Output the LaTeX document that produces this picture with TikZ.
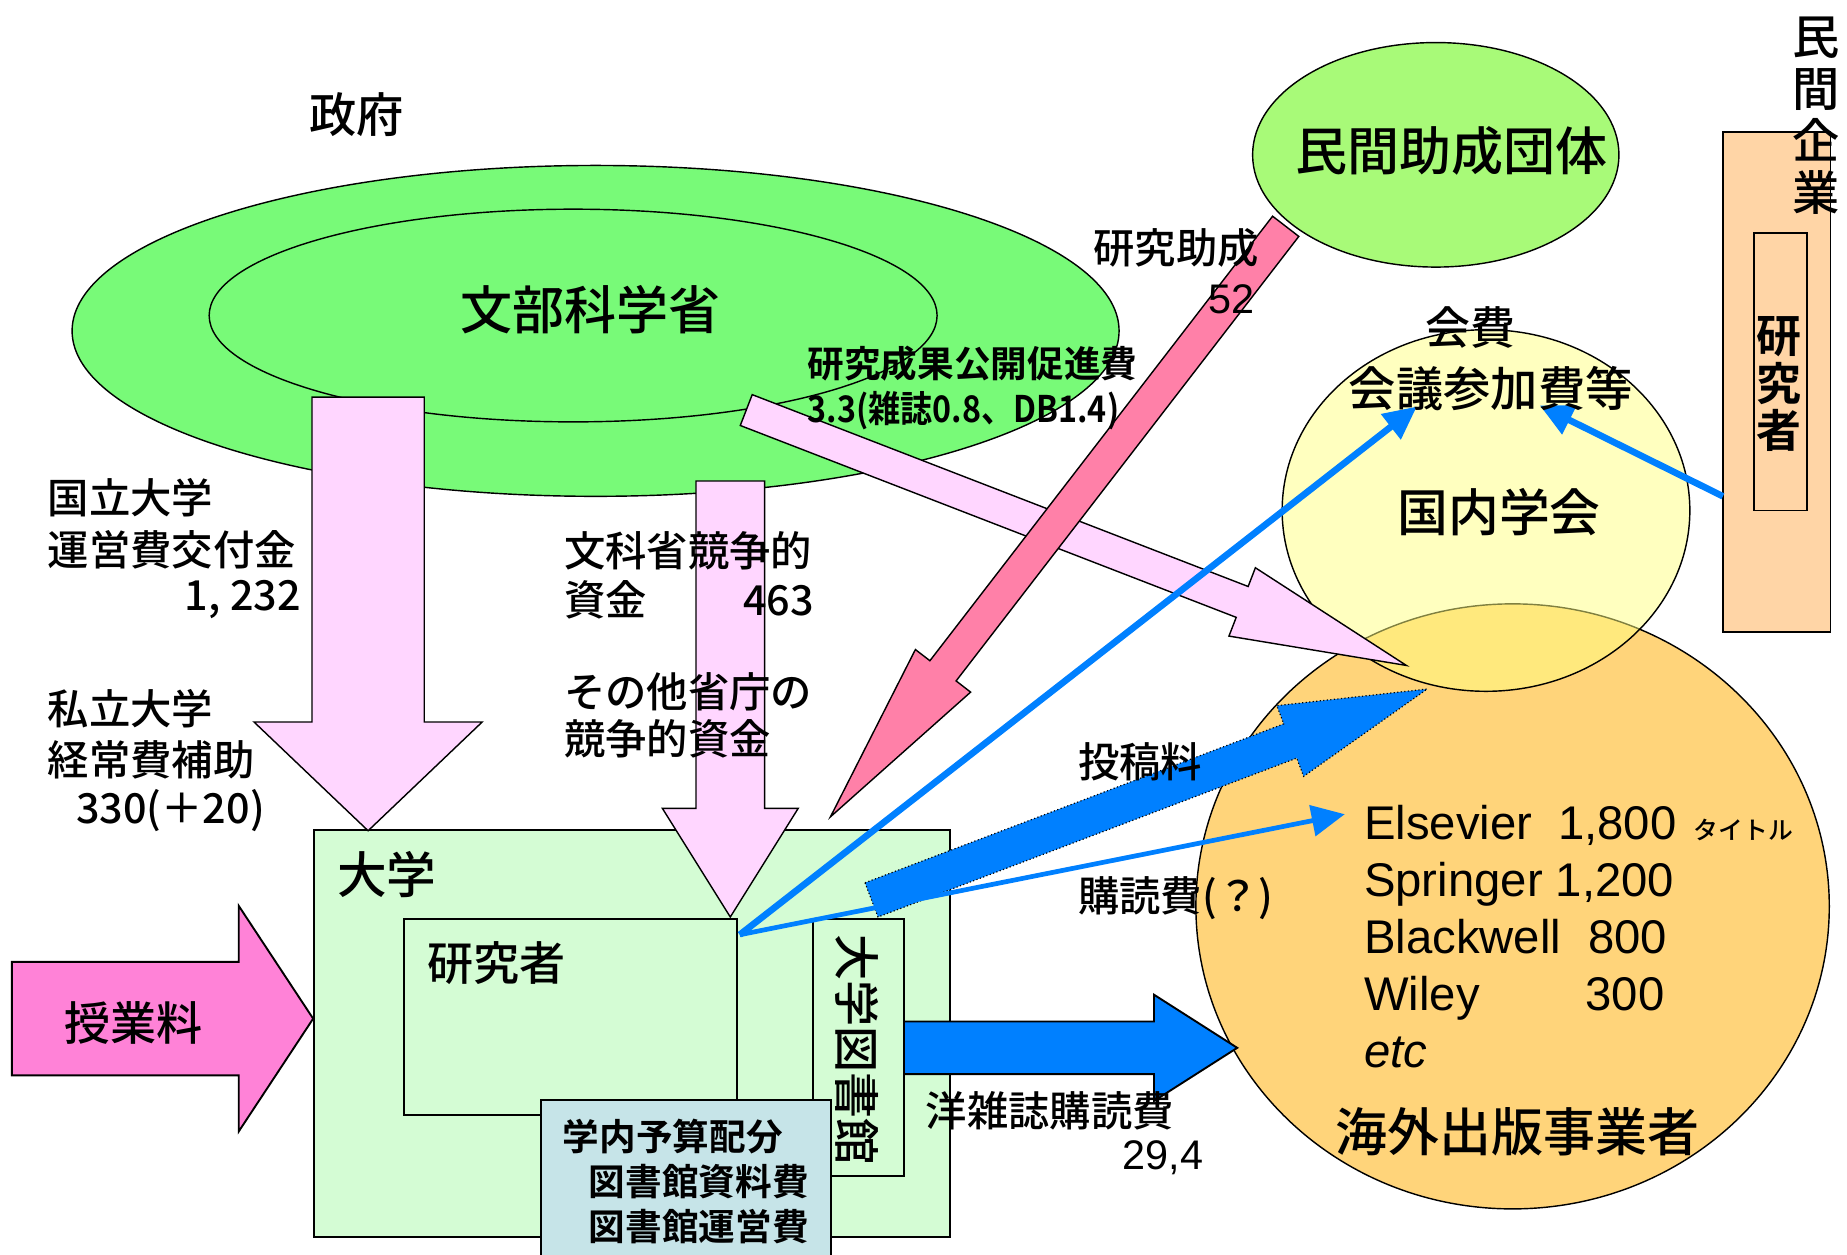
\documentclass[tikz,border=0pt]{standalone}
\usepackage{fontspec}
\usepackage{graphicx}
\setmainfont{Liberation Sans}
\newfontfamily\jp{Noto Sans CJK JP Medium}[BoldFont={Noto Sans CJK JP Bold}]
\usetikzlibrary{shapes.geometric,arrows.meta}

\definecolor{govgreen}{RGB}{120,250,120}
\definecolor{privgreen}{RGB}{168,250,120}
\definecolor{lightpink}{RGB}{255,214,255}
\definecolor{grantred}{RGB}{255,128,168}
\definecolor{feepink}{RGB}{255,130,215}
\definecolor{flowblue}{RGB}{0,128,255}
\definecolor{univgreen}{RGB}{212,252,212}
\definecolor{budgetblue}{RGB}{198,228,232}
\definecolor{peach}{RGB}{255,213,166}
\definecolor{puborange}{RGB}{255,212,122}
\definecolor{socyellow}{RGB}{255,255,128}

% block arrow: [style]{tail}{angle}{length}{half shaft}{half head}{head length}
\newcommand{\blockarrow}[7][]{%
  \begin{scope}[shift={#2}, rotate=#3]
    \path[#1] (0,-#5) -- (#4-#7,-#5) -- (#4-#7,-#6) -- (#4,0)
      -- (#4-#7,#6) -- (#4-#7,#5) -- (0,#5) -- cycle;
  \end{scope}}

\begin{document}
\begin{tikzpicture}[x=0.5pt, y=-0.5pt,
    oval/.style = {draw, ellipse, inner sep=0pt, line width=0.6pt},
    box/.style = {draw, rectangle, inner sep=0pt, line width=0.8pt},
    lbl/.style = {inner sep=0pt, font=\jp\fontsize{17.5}{21}\selectfont},
    biglbl/.style = {inner sep=0pt, font=\jp\fontsize{22}{26}\selectfont},
    boldlbl/.style = {inner sep=0pt, font=\jp\bfseries\fontsize{15.5}{19}\selectfont},
    title/.style = {inner sep=0pt, anchor=base west, font=\fontsize{20}{24}\selectfont},
    pinkarrow/.style = {draw, fill=lightpink, line width=0.6pt},
    redarrow/.style = {draw, fill=grantred, line width=0.6pt},
    tuition/.style = {draw, fill=feepink, line width=0.8pt},
    fatblue/.style = {draw, densely dotted, fill=flowblue, line width=0.5pt},
    boxblue/.style = {draw, fill=flowblue, line width=0.8pt},
    bluearrow/.style = {draw=flowblue, line width=2.8pt, -{Triangle[length=14pt, width=13pt]}}]
  \useasboundingbox (0,0) rectangle (1563,1062);

  % government and funders
  \node[oval, fill=govgreen, minimum width=443pt, minimum height=140pt] (gov) at (504,280) {};
  \node[oval, fill=govgreen, minimum width=308pt, minimum height=90pt] (mext) at (485,267) {};
  \node[oval, fill=privgreen, minimum width=155pt, minimum height=95pt] (found) at (1215,131) {};

  % private company
  \node[box, fill=peach, minimum width=45.5pt, minimum height=211.5pt] (corp) at (1503.5,323.5) {};
  \node[box, minimum width=22.5pt, minimum height=117.5pt] (corpres) at (1506.5,314.5) {};

  % publishers and societies
  \node[oval, fill=puborange, minimum width=268pt, minimum height=256pt] (pub) at (1280,767) {};
  \node[oval, fill=socyellow, fill opacity=0.5, draw opacity=1,
    minimum width=172.5pt, minimum height=153pt] (soc) at (1257.5,432) {};

  % university
  \node[box, fill=univgreen, minimum width=269pt, minimum height=172.5pt] (univ) at (535,874.5) {};
  \node[box, fill=univgreen, minimum width=141pt, minimum height=83pt] (res) at (483,860.7) {};
  \node[box, fill=univgreen, minimum width=38.5pt, minimum height=108.5pt] (lib) at (726.5,886.5) {};
  \node[box, fill=budgetblue, minimum width=122.5pt, minimum height=72pt] (budget) at (580.5,1003) {};

  % money flows
  \blockarrow[pinkarrow]{(311.5,336)}{-90}{367}{47.5}{96.5}{92}
  \blockarrow[pinkarrow]{(618,407)}{-90}{369}{29}{57.5}{92}
  \blockarrow[pinkarrow]{(631.5,347)}{-21.15}{599}{14}{31}{149}
  \blockarrow[redarrow]{(1088,191.5)}{-127.63}{631}{14}{29.5}{156}
  \blockarrow[tuition]{(10,862)}{0}{255}{48}{95.5}{63}
  \blockarrow[boxblue]{(765,886.7)}{0}{282}{22.3}{45}{70.5}
  \blockarrow[fatblue]{(737.5,761.5)}{20.78}{503}{15.5}{32}{124}

  \coordinate (rescorner) at (626,791);
  \coordinate (kaigiL) at (1199,344);
  \coordinate (kaigiR) at (1303,343);
  \coordinate (corpL) at (1458,420);
  \coordinate (elsev) at (1138,689);
  \draw[bluearrow] (rescorner) -- (kaigiL);
  \draw[bluearrow] (corpL) -- (kaigiR);
  \draw[bluearrow, line width=2pt] (rescorner) -- (elsev);

  % labels
  \node[inner sep=0pt, font=\jp\fontsize{20}{24}\selectfont] (govname) at (302,97) {政府};
  \node[biglbl] (mextname) at (500,262) {文部科学省};
  \node[biglbl] (foundname) at (1228,128) {民間助成団体};
  \node[inner sep=0pt, align=center, font=\jp\fontsize{20}{22}\selectfont] (corpname) at (1537,98) {民\\間\\企\\業};
  \node[inner sep=0pt, align=center, font=\jp\bfseries\fontsize{19}{20}\selectfont] (corpresname) at (1505,325) {研\\究\\者};

  \node[lbl, anchor=west] (kokuritsu) at (40,421) {国立大学};
  \node[lbl, anchor=west] (unei) at (40,465) {運営費交付金};
  \node[lbl, anchor=east] (unei-v) at (255,507) {1, 232};
  \node[lbl, anchor=west] (shiritsu) at (40,600) {私立大学};
  \node[lbl, anchor=west] (keijo) at (40,643) {経常費補助};
  \node[lbl, anchor=west] (keijo-v) at (64,686) {330(＋20)};
  \node[lbl, anchor=west] (kyoso) at (477,466) {文科省競争的};
  \node[lbl, anchor=west] (shikin) at (477,508) {資金};
  \node[lbl, anchor=east] (kyoso-v) at (689,508) {463};
  \node[lbl, anchor=west] (sonota) at (477,585) {その他省庁の};
  \node[lbl, anchor=west] (sonota2) at (477,625) {競争的資金};

  \node[lbl, anchor=west] (josei) at (925,210) {研究助成};
  \node[inner sep=0pt, font=\fontsize{17.5}{21}\selectfont] (josei-v) at (1042,253) {52};
  \node[boldlbl, anchor=west] (kokai) at (683,308) {研究成果公開促進費};
  \node[boldlbl, anchor=west] (kokai-v) at (683,347) {\scalebox{0.88}[1]{3.3(雑誌0.8、DB1.4)}};

  \node[inner sep=0pt, font=\jp\fontsize{19}{23}\selectfont] (kaihi) at (1244,277) {会費};
  \node[inner sep=0pt, font=\jp\fontsize{20}{24}\selectfont] (kaigi) at (1261.5,329) {会議参加費等};
  \node[inner sep=0pt, font=\jp\fontsize{21.5}{25}\selectfont] (socname) at (1268.5,433.5) {国内学会};

  \node[lbl, anchor=west] (toko) at (912,645) {投稿料};
  \node[lbl, anchor=west] (kodoku) at (912,760) {購読費(？)};
  \node[lbl, anchor=west] (yozasshi) at (783,940) {洋雑誌購読費};
  \node[inner sep=0pt, font=\fontsize{17.5}{21}\selectfont] (yozasshi-v) at (984,980) {29,4};

  \node[title] (elsevier) at (1154,710.5) {Elsevier};
  \node[title, anchor=base east] (elsevier-v) at (1419,710.5) {1,800};
  \node[inner sep=0pt, anchor=base west, font=\jp\fontsize{10.5}{12}\selectfont] (titles) at (1433,710.5) {タイトル};
  \node[title] (springer) at (1154,758.5) {Springer};
  \node[title, anchor=base east] (springer-v) at (1417,758.5) {1,200};
  \node[title] (blackwell) at (1154,807) {Blackwell};
  \node[title, anchor=base east] (blackwell-v) at (1411,807) {800};
  \node[title] (wiley) at (1154,855) {Wiley};
  \node[title, anchor=base east] (wiley-v) at (1409,855) {300};
  \node[title] (etc) at (1154,903) {\itshape etc};
  \node[biglbl] (pubname) at (1284,958) {海外出版事業者};

  \node[inner sep=0pt, font=\jp\fontsize{21}{25}\selectfont, anchor=west] (univname) at (285,740) {大学};
  \node[inner sep=0pt, font=\jp\fontsize{19.5}{23}\selectfont, anchor=west] (resname) at (361,815) {研究者};
  \node[inner sep=0pt, font=\jp\fontsize{19.5}{23}\selectfont, rotate=-90] (libname) at (725,888) {大学図書館};
  \node[boldlbl, anchor=west] (budget1) at (476,962) {学内予算配分};
  \node[boldlbl, anchor=west] (budget2) at (498,1000) {図書館資料費};
  \node[boldlbl, anchor=west] (budget3) at (498,1038) {図書館運営費};
  \node[inner sep=0pt, font=\jp\fontsize{19.5}{23}\selectfont] (tuitionname) at (113,866) {授業料};
\end{tikzpicture}
\end{document}
